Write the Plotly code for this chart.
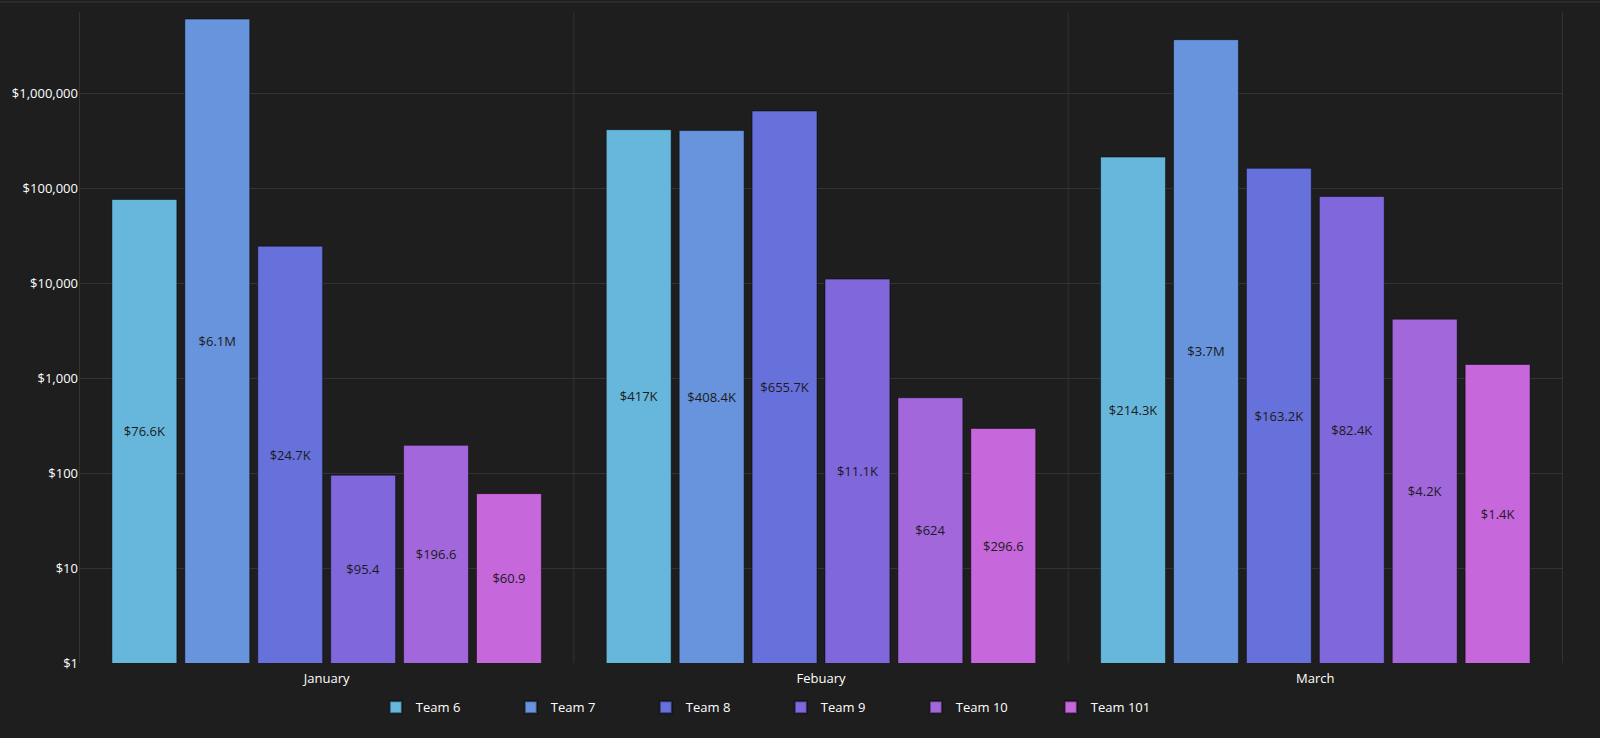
import plotly.graph_objects as go

MONTHS = ['January', 'Febuary', 'March']
TEAMS = ['Team 6', 'Team 7', 'Team 8', 'Team 9', 'Team 10', 'Team 101']
COLORS = ['#67b7dc', '#6794dc', '#6771dc', '#8067dc', '#a367dc', '#c767dc']

# values per team, one per month
TEAM_6 = [76600, 417000, 214300]
TEAM_7 = [6100000, 408400, 3700000]
TEAM_8 = [24700, 655700, 163200]
TEAM_9 = [95.4, 11100, 82400]
TEAM_10 = [196.6, 624, 4200]
TEAM_101 = [60.9, 296.6, 1400]

SERIES = [TEAM_6, TEAM_7, TEAM_8, TEAM_9, TEAM_10, TEAM_101]

TICK_VALS = [1, 10, 100, 1000, 10000, 100000, 1000000]

FONT = 'Open Sans, Noto Sans, sans-serif'


def short_money(v):
    if v >= 1e6:
        return f'${v / 1e6:.1f}M'.replace('.0M', 'M')
    if v >= 1e3:
        return f'${v / 1e3:.1f}K'.replace('.0K', 'K')
    return f'${v:g}'


fig = go.Figure()
for name, vals, color in zip(TEAMS, SERIES, COLORS):
    fig.add_trace(go.Bar(
        name=name, x=MONTHS, y=vals,
        marker=dict(color=color, line=dict(color='rgba(0,0,0,0.45)', width=1)),
        text=[short_money(v) for v in vals],
        textposition='inside', insidetextanchor='middle',
        textfont=dict(color='#1b1b1b', size=13, family=FONT),
        hovertemplate='%{x}: %{text}<extra>' + name + '</extra>',
    ))

fig.update_layout(
    barmode='group', bargap=0.115, bargroupgap=0.11,
    paper_bgcolor='#1e1e1e', plot_bgcolor='#1e1e1e',
    width=1600, height=738,
    margin=dict(l=79, r=37, t=12, b=75),
    font=dict(family=FONT, color='#e8e8e8', size=13),
    legend=dict(
        orientation='h', x=0.2, xanchor='left', y=-0.045, yanchor='top',
        entrywidth=90, font=dict(size=13, color='#ffffff'),
        itemsizing='constant', traceorder='normal',
    ),
    xaxis=dict(
        showgrid=False, ticks='', zeroline=False, ticklabelstandoff=6,
        tickfont=dict(size=13, color='#ffffff'),
    ),
    yaxis=dict(
        type='log', range=[0, 6.86],
        tickvals=TICK_VALS, ticktext=[f'${v:,}' for v in TICK_VALS],
        gridcolor='#333333', gridwidth=1, zeroline=False,
        tickfont=dict(size=13, color='#ffffff'), ticks='',
    ),
    shapes=[
        dict(type='line', xref='paper', yref='paper', x0=-0.06, x1=1.03, y0=1.0155, y1=1.0155,
             line=dict(color='#3a3a3a', width=1)),
    ] + [
        dict(type='line', xref='x', yref='paper', x0=i - 0.5, x1=i - 0.5, y0=0, y1=1,
             line=dict(color='#333333', width=1), layer='below')
        for i in range(len(MONTHS) + 1)
    ],
)

fig.write_html(
    'out.html',
    config={'displayModeBar': False},
    post_script="document.body.style.margin='0';document.body.style.overflow='hidden';"
                "document.body.style.background='#1e1e1e';",
)
